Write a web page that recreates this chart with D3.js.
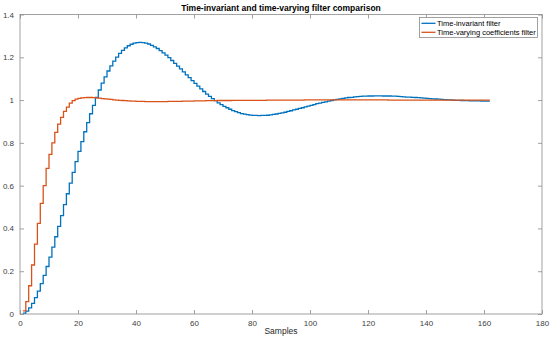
<!DOCTYPE html>
<html>
<head>
<meta charset="utf-8">
<script src="https://cdn.jsdelivr.net/npm/d3@7"></script>
<style>
  body { margin: 0; background: #fff; }
  svg { display: block; font-family: "Liberation Sans", Arial, sans-serif; }
  .line { fill: none; stroke-width: 1.3; }
</style>
</head>
<body>
<svg id="chart" width="550" height="339"></svg>
<script>
// step response of the time-invariant filter, one value per sample (1..162)
var timeInvariant = [
  0.004, 0.013, 0.029, 0.050, 0.077, 0.107, 0.142, 0.181, 0.222, 0.266,
  0.313, 0.361, 0.410, 0.460, 0.511, 0.562, 0.612, 0.662, 0.712, 0.760,
  0.806, 0.852, 0.895, 0.936, 0.975, 1.012, 1.047, 1.079, 1.108, 1.136,
  1.160, 1.182, 1.201, 1.218, 1.232, 1.244, 1.254, 1.261, 1.266, 1.269,
  1.270, 1.269, 1.266, 1.262, 1.256, 1.249, 1.241, 1.231, 1.221, 1.210,
  1.198, 1.185, 1.172, 1.159, 1.146, 1.132, 1.118, 1.105, 1.091, 1.078,
  1.065, 1.052, 1.040, 1.028, 1.017, 1.007, 0.997, 0.987, 0.979, 0.971,
  0.964, 0.957, 0.951, 0.946, 0.941, 0.937, 0.934, 0.932, 0.930, 0.928,
  0.928, 0.927, 0.928, 0.928, 0.929, 0.931, 0.933, 0.935, 0.938, 0.940,
  0.943, 0.947, 0.950, 0.954, 0.957, 0.961, 0.964, 0.968, 0.972, 0.975,
  0.979, 0.983, 0.986, 0.989, 0.992, 0.995, 0.998, 1.001, 1.003, 1.006,
  1.008, 1.010, 1.012, 1.013, 1.015, 1.016, 1.017, 1.018, 1.018, 1.019,
  1.019, 1.020, 1.020, 1.020, 1.019, 1.019, 1.019, 1.018, 1.018, 1.017,
  1.016, 1.015, 1.014, 1.014, 1.013, 1.012, 1.011, 1.010, 1.009, 1.008,
  1.007, 1.006, 1.005, 1.004, 1.003, 1.002, 1.001, 1.001, 1.000, 0.999,
  0.999, 0.998, 0.997, 0.997, 0.996, 0.996, 0.996, 0.996, 0.995, 0.995,
  0.995, 0.995
];

// step response of the time-varying coefficients filter (1..162)
var timeVarying = [
  0.015, 0.058, 0.132, 0.229, 0.327, 0.424, 0.517, 0.600, 0.681, 0.746,
  0.800, 0.849, 0.888, 0.919, 0.947, 0.967, 0.986, 0.997, 1.004, 1.008,
  1.010, 1.011, 1.012, 1.012, 1.011, 1.010, 1.009, 1.007, 1.006, 1.004,
  1.003, 1.001, 1.000, 0.999, 0.998, 0.997, 0.996, 0.995, 0.995, 0.994,
  0.994, 0.994, 0.993, 0.993, 0.993, 0.993, 0.993, 0.993, 0.993, 0.993,
  0.994, 0.994, 0.994, 0.994, 0.994, 0.995, 0.995, 0.995, 0.995, 0.996,
  0.996, 0.996, 0.996, 0.997, 0.997, 0.997, 0.997, 0.998, 0.998, 0.998,
  0.998, 0.998, 0.999, 0.999, 0.999, 0.999, 0.999, 0.999, 0.999, 0.999,
  0.999, 0.999, 0.999, 0.999, 1.000, 1.000, 1.000, 1.000, 1.000, 1.000,
  1.000, 1.000, 1.000, 1.000, 1.000, 1.000, 1.000, 1.001, 1.001, 1.001,
  1.001, 1.001, 1.001, 1.001, 1.001, 1.001, 1.001, 1.001, 1.001, 1.001,
  1.001, 1.001, 1.001, 1.001, 1.001, 1.001, 1.001, 1.001, 1.001, 1.001,
  1.001, 1.001, 1.001, 1.001, 1.001, 1.001, 1.000, 1.000, 1.000, 1.000,
  1.000, 1.000, 1.000, 1.000, 1.000, 1.000, 1.000, 1.000, 1.000, 1.000,
  1.000, 1.000, 1.000, 1.000, 1.000, 1.000, 1.000, 1.000, 1.000, 1.000,
  1.000, 1.000, 1.000, 1.000, 1.000, 1.000, 1.000, 1.000, 1.000, 1.000,
  1.000, 1.000
];

var seriesNames = ["Time-invariant filter", "Time-varying coefficients filter"];
var seriesColors = ["#0072BD", "#D95319"];
var xTicks = [0, 20, 40, 60, 80, 100, 120, 140, 160, 180];
var yTicks = [0, 0.2, 0.4, 0.6, 0.8, 1, 1.2, 1.4];
var yTickLabels = ["0", "0.2", "0.4", "0.6", "0.8", "1", "1.2", "1.4"];

var svg = d3.select("svg#chart"),
  margin = { top: 14.5, right: 8, bottom: 25, left: 20 },
  width = +svg.attr("width") - margin.left - margin.right,
  height = +svg.attr("height") - margin.top - margin.bottom,
  g = svg.append("g").attr("transform", "translate(" + margin.left + "," + margin.top + ")");

var x = d3.scaleLinear().domain([0, 180]).range([0, width]);
var y = d3.scaleLinear().domain([0, 1.4]).range([height, 0]);

var axisColor = "#8a8a8a";
var textColor = "#404040";

// box
g.append("rect")
  .attr("x", 0).attr("y", 0)
  .attr("width", width).attr("height", height)
  .attr("fill", "none")
  .attr("stroke", axisColor)
  .attr("stroke-width", 0.8);

// bottom axis, ticks inside
var xAxis = g.append("g")
  .attr("transform", "translate(0," + height + ")")
  .call(d3.axisBottom(x).tickValues(xTicks).tickSizeInner(-4).tickSizeOuter(0).tickPadding(6));
// top ticks
var xAxisTop = g.append("g")
  .call(d3.axisTop(x).tickValues(xTicks).tickSizeInner(-4).tickSizeOuter(0).tickFormat(""));
// left axis
var yAxis = g.append("g")
  .call(d3.axisLeft(y).tickValues(yTicks).tickSizeInner(-4).tickSizeOuter(0).tickPadding(6)
    .tickFormat(function (d, i) { return yTickLabels[i]; }));
// right ticks
var yAxisRight = g.append("g")
  .attr("transform", "translate(" + width + ",0)")
  .call(d3.axisRight(y).tickValues(yTicks).tickSizeInner(-4).tickSizeOuter(0).tickFormat(""));

[xAxis, xAxisTop, yAxis, yAxisRight].forEach(function (a) {
  a.select(".domain").remove();
  a.selectAll("line").attr("stroke", axisColor).attr("stroke-width", 0.8);
  a.selectAll("text").attr("fill", textColor).attr("font-size", "8px")
    .attr("font-family", "'Liberation Sans', Arial, sans-serif");
});

// stairs lines
var stairs = d3.line()
  .curve(d3.curveStepAfter)
  .x(function (d, i) { return x(i + 1); })
  .y(function (d) { return y(d); });

[timeInvariant, timeVarying].forEach(function (s, i) {
  g.append("path")
    .datum(s)
    .attr("class", "line")
    .attr("stroke", seriesColors[i])
    .attr("d", stairs);
});

// title
svg.append("text")
  .attr("x", margin.left + width / 2)
  .attr("y", 10.5)
  .attr("text-anchor", "middle")
  .attr("font-size", "8.5px")
  .attr("font-weight", "bold")
  .attr("fill", "#000")
  .text("Time-invariant and time-varying filter comparison");

// x label
svg.append("text")
  .attr("x", margin.left + width / 2)
  .attr("y", 334)
  .attr("text-anchor", "middle")
  .attr("font-size", "8.5px")
  .attr("fill", "#262626")
  .text("Samples");

// legend
var legend = svg.append("g").attr("transform", "translate(419.5,17.5)");
legend.append("rect")
  .attr("width", 118).attr("height", 20)
  .attr("fill", "#fff")
  .attr("stroke", "#8a8a8a")
  .attr("stroke-width", 0.8);
var item = legend.selectAll("g.item")
  .data(seriesNames)
  .enter().append("g")
  .attr("class", "item")
  .attr("transform", function (d, i) { return "translate(0," + (5.8 + i * 9) + ")"; });
item.append("line")
  .attr("x1", 2).attr("x2", 16)
  .attr("stroke", function (d, i) { return seriesColors[i]; })
  .attr("stroke-width", 1.3);
item.append("text")
  .attr("x", 17.5)
  .attr("dy", "0.33em")
  .attr("font-size", "7.5px")
  .attr("fill", "#000")
  .text(function (d) { return d; });
</script>
</body>
</html>
